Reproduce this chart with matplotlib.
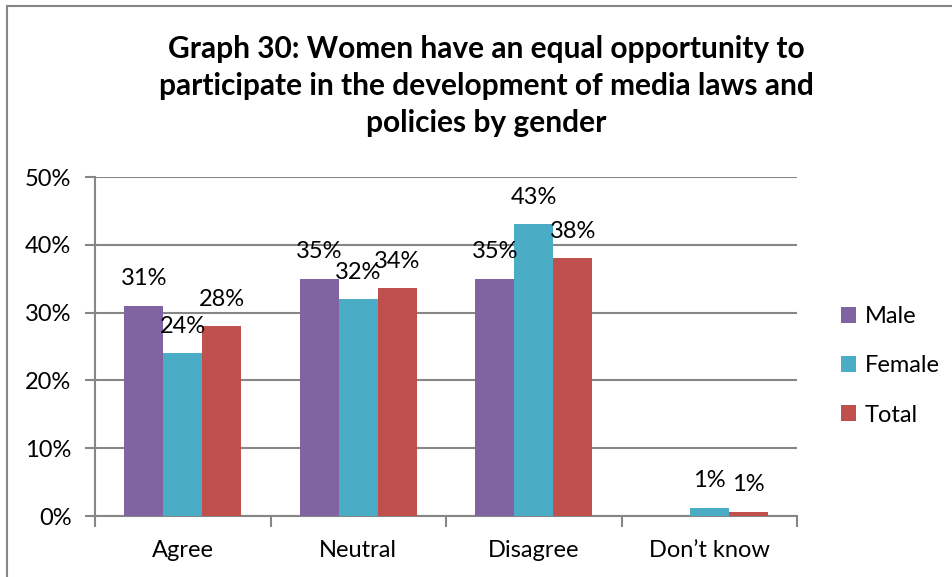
import numpy as np
import matplotlib.pyplot as plt
from matplotlib.patches import Patch, Rectangle

plt.rcParams['font.family'] = ['Lato', 'DejaVu Sans']

categories = ['Agree', 'Neutral', 'Disagree', 'Don\u2019t know']
series = ['Male', 'Female', 'Total']
male = [0.31, 0.35, 0.35, 0.0]
female = [0.24, 0.32, 0.43, 0.012]
total = [0.28, 0.336, 0.38, 0.006]
colors = ['#8064A2', '#4BACC6', '#C0504D']

title = ('Graph 30: Women have an equal opportunity to\n'
         'participate in the development of media laws and\n'
         'policies by gender')

fig = plt.figure(figsize=(9.52, 5.77), dpi=100)
ax = fig.add_axes([0.0998, 0.1057, 0.7374, 0.5875])

# outer chart frame (runs off the right/bottom edge)
fig.patches.append(Rectangle((7 / 952, -0.1), 1.2, 1 - 6 / 577 + 0.1,
                             transform=fig.transFigure, fill=False,
                             edgecolor='#868686', linewidth=1.5))

x = np.arange(len(categories))
w = 0.222
for i, (vals, name, c) in enumerate(zip([male, female, total], series, colors)):
    pos = x + (i - 1) * w
    ax.bar(pos, vals, width=w, color=c, label=name, zorder=3)
    for xp, v in zip(pos, vals):
        if v == 0:
            continue
        ax.annotate(f'{v:.0%}', (xp, v), xytext=(0, 27),
                    textcoords='offset pixels', ha='center', va='center',
                    fontsize=17, color='black', zorder=4)

ax.set_xlim(-0.5, 3.5)
ax.set_ylim(0, 0.5)
ax.set_yticks(np.arange(0, 0.51, 0.1))
ax.set_yticklabels([f'{int(round(t * 100))}%' for t in np.arange(0, 0.51, 0.1)])
ax.yaxis.grid(True, color='#868686', linewidth=1.5, zorder=0)

ax.set_xticks(np.arange(-0.5, 3.6, 1.0))
ax.set_xticklabels([])
ax.set_xticks(x, minor=True)
ax.set_xticklabels(categories, minor=True)
ax.tick_params(axis='x', which='major', length=8, width=1.5, color='#868686')
ax.tick_params(axis='x', which='minor', length=0, pad=17, labelsize=17)
ax.tick_params(axis='y', length=7, width=1.5, color='#868686', labelsize=17,
               pad=10)

for side in ['top', 'right']:
    ax.spines[side].set_visible(False)
for side in ['left', 'bottom']:
    ax.spines[side].set_color('#868686')
    ax.spines[side].set_linewidth(1.5)

handles = [Patch(facecolor=c, label=s) for s, c in zip(series, colors)]
fig.legend(handles=handles, loc='center left', bbox_to_anchor=(0.871, 0.366),
           frameon=False, fontsize=17, handlelength=0.65, handleheight=0.65,
           handletextpad=0.35, labelspacing=1.2, borderpad=0)

fig.text(0.511, 0.851, title, ha='center', va='center', fontsize=21.5,
         fontweight='bold', linespacing=1.39)

fig.savefig('out.png', dpi=100)
